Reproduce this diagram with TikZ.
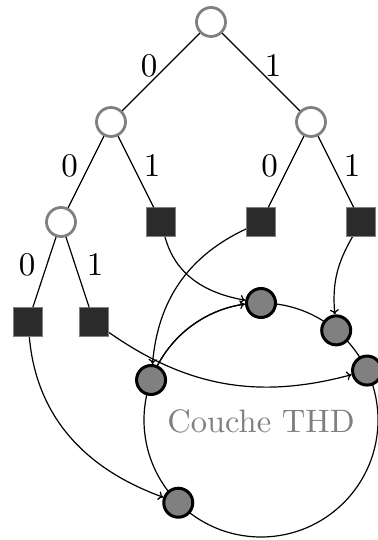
\documentclass[tikz,border=0pt]{standalone}
\usetikzlibrary{arrows.meta}
\definecolor{leafc}{HTML}{2B2B2B}
\definecolor{ringfill}{HTML}{808080}
\definecolor{tgray}{HTML}{808080}
\pgfdeclarelayer{bg}
\pgfsetlayers{bg,main}
\begin{document}
\begin{tikzpicture}[x=1pt,y=1pt,
  tnode/.style={circle,draw=tgray,fill=white,line width=2.8pt,minimum size=29pt,inner sep=0pt},
  leaf/.style={rectangle,draw=tgray,fill=leafc,line width=0.8pt,minimum size=28.5pt,inner sep=0pt},
  rnode/.style={circle,draw=black,fill=ringfill,line width=3pt,minimum size=29pt,inner sep=0pt},
  edge/.style={line width=1.2pt},
  conn/.style={line width=1.2pt,-{To[length=5pt,width=9pt]}},
  lab/.style={scale=3.3,inner sep=0pt},
  ringlab/.style={scale=3.25,text=tgray,inner sep=0pt}]
\useasboundingbox (0,0) rectangle (377,540);
% tree
\node[tnode] (R) at (211,518) {};
\node[tnode] (L) at (111,418) {};
\node[tnode] (Rr) at (311,418) {};
\node[tnode] (LL) at (61,318) {};
\node[leaf] (S1) at (161,318) {};
\node[leaf] (S2) at (261,318) {};
\node[leaf] (S3) at (361,318) {};
\node[leaf] (S4) at (28,218) {};
\node[leaf] (S5) at (94,218) {};
\draw[edge] (R) -- (L);
\draw[edge] (R) -- (Rr);
\draw[edge] (L) -- (LL);
\draw[edge] (L) -- (S1);
\draw[edge] (Rr) -- (S2);
\draw[edge] (Rr) -- (S3);
\draw[edge] (LL) -- (S4);
\draw[edge] (LL) -- (S5);
\node[lab] (l1) at (149,474) {0};
\node[lab] (l2) at (273,474) {1};
\node[lab] (l3) at (69.5,374) {0};
\node[lab] (l4) at (152,374) {1};
\node[lab] (l5) at (269.5,374) {0};
\node[lab] (l6) at (352,374) {1};
\node[lab] (l7) at (27,275) {0};
\node[lab] (l8) at (95,275) {1};
% ring
\coordinate (ringc) at (261,120);
\node[ringlab] (thd) at (261,119) {Couche THD};
\node[rnode] (A) at ([shift={(90:117pt)}]ringc) {};
\node[rnode] (B) at ([shift={(50:117pt)}]ringc) {};
\node[rnode] (C) at ([shift={(25:117pt)}]ringc) {};
\node[rnode] (D) at ([shift={(160:117pt)}]ringc) {};
\node[rnode] (E) at ([shift={(225:117pt)}]ringc) {};
\begin{pgfonlayer}{bg}
\draw[edge] (ringc) circle (117pt);
\coordinate (DAs) at ([shift={(152:117pt)}]ringc);
\draw[conn] (DAs) arc[start angle=152, end angle=98, radius=117pt];
\draw[conn] (S1) to[out=-75, in=170] (A);
\draw[conn] (S2) to[out=205, in=85] (D);
\draw[conn] (S3) to[out=-120, in=95] (B);
\draw[conn] (S4) to[out=-85, in=160] (E);
\draw[conn] (S5) to[out=-35, in=195] (C);
\end{pgfonlayer}
\end{tikzpicture}
\end{document}
